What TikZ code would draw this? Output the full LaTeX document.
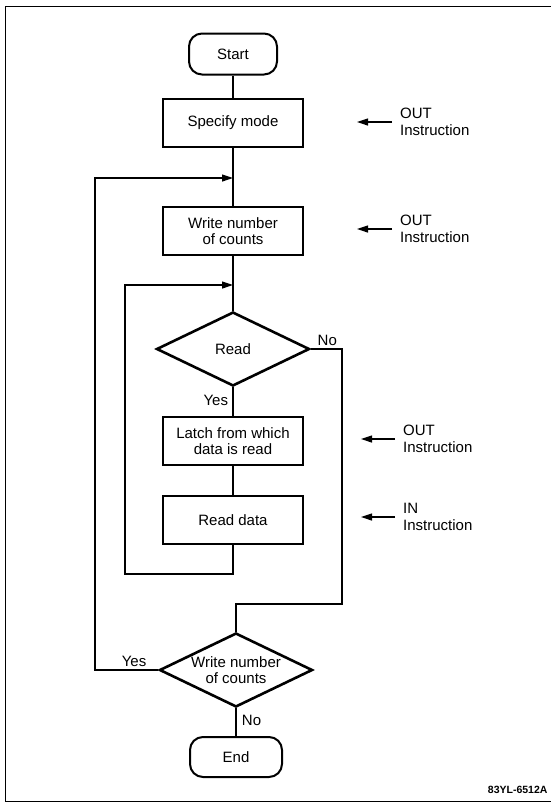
\documentclass[tikz,border=0pt]{standalone}
\usepackage{fontspec}
\setmainfont{Liberation Sans}
\usetikzlibrary{shapes.geometric,arrows.meta}

\tikzset{
  terminal/.style={draw, line width=2pt, rounded corners=13pt, minimum width=88pt, minimum height=41pt, inner sep=0pt},
  process/.style={draw, line width=2pt, minimum width=140pt, minimum height=48pt, align=center, inner sep=0pt},
  decision/.style={draw, line width=2.6pt, diamond, minimum width=153pt, minimum height=74pt, inner sep=0pt},
  flow/.style={line width=1.2pt},
  tip/.style={-{Triangle[length=11pt,width=7pt]}},
  note/.style={anchor=west, align=left, inner sep=0pt},
}

\begin{document}
\begin{tikzpicture}[x=1pt, y=-1pt, font=\fontsize{15}{16.5}\selectfont]
        \useasboundingbox (0,0) rectangle (551,804);
        % Frame
        \draw[line width=0.9pt] (560,6) -- (5,6) -- (5,801) -- (560,801);

        % Main column
        \node[terminal] (start) at (233,54) {Start};
        \node[process] (mode) at (233,123) {Specify mode};
        \node[process] (wnum) at (233,231) {Write number\\of counts};
        \node[decision] (rd) at (233,349) {};
        \node[align=center] at (rd) {Read};
        \node[process] (latch) at (233,441) {Latch from which\\data is read};
        \node[process] (rdata) at (233,520) {Read data};
        \node[decision] (wd) at (236,670) {};
        \node[align=center] at (wd) {Write number\\of counts};
        \node[terminal, minimum width=92pt, minimum height=40pt] (end) at (236,757) {End};

        % Bends of the loops
        \coordinate (j1) at (233,178);
        \coordinate (ol) at (95,178);
        \coordinate (j2) at (233,285);
        \coordinate (il) at (125,574);
        \coordinate (nr) at (342,604);

        % Connectors
        \draw[flow] (start) -- (mode);
        \draw[flow] (mode) -- (wnum);
        \draw[flow] (wnum) -- (rd);
        \draw[flow] (rd) -- (latch) node[pos=0.45, left, xshift=-1pt] {Yes};
        \draw[flow] (latch) -- (rdata);
        \draw[flow, tip] (rdata.south) |- (il) |- (j2);
        \draw[flow] (rd.east) node[above right, xshift=3pt, yshift=-1pt] {No} -| (nr) -| (wd.north);
        \draw[flow, tip] (wd.west) node[above left, xshift=-8pt, yshift=-1pt] {Yes} -| (ol) -- (j1);
        \draw[flow] (wd) -- (end) node[pos=0.45, right, xshift=2pt] {No};

        % Instructions on the right
        \node[note] (n1) at (400,122) {OUT\\Instruction};
        \node[note] (n2) at (400,229) {OUT\\Instruction};
        \node[note] (n3) at (403,439) {OUT\\Instruction};
        \node[note] (n4) at (403,517) {IN\\Instruction};
        \coordinate (a1) at (357,122);
        \coordinate (a2) at (357,229);
        \coordinate (a3) at (361,439);
        \coordinate (a4) at (361,517);
        \foreach \n/\a in {n1/a1, n2/a2, n3/a3, n4/a4}
          \draw[flow, tip, shorten <=8pt] (\n.west) -- (\a);

        \node[anchor=east, font=\fontsize{10.5}{12}\selectfont\bfseries] (fig) at (551,790) {83YL-6512A};
\end{tikzpicture}
\end{document}
